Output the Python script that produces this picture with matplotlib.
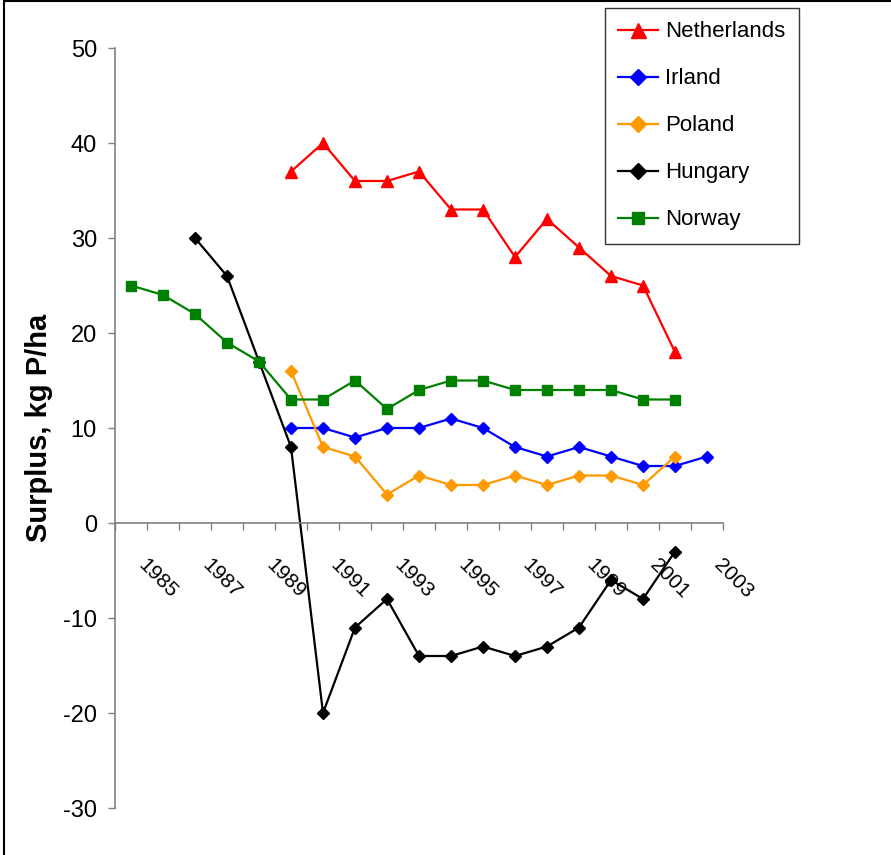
import numpy as np
import matplotlib
matplotlib.use("Agg")
import matplotlib.pyplot as plt
import matplotlib.transforms as mtransforms
from matplotlib.patches import Rectangle

plt.rcParams["font.family"] = ["Liberation Sans", "DejaVu Sans"]
plt.rcParams["axes.unicode_minus"] = False

# --- phosphorus surplus per year (kg P/ha), NaN where no value ---
years = list(range(1985, 2004))
nan = np.nan
netherlands = [nan, nan, nan, nan, nan, 37, 40, 36, 36, 37, 33, 33, 28, 32, 29, 26, 25, 18, nan]
irland = [nan, nan, nan, nan, nan, 10, 10, 9, 10, 10, 11, 10, 8, 7, 8, 7, 6, 6, 7]
poland = [nan, nan, nan, nan, nan, 16, 8, 7, 3, 5, 4, 4, 5, 4, 5, 5, 4, 7, nan]
hungary = [nan, nan, 30, 26, 17, 8, -20, -11, -8, -14, -14, -13, -14, -13, -11, -6, -8, -3, nan]
norway = [25, 24, 22, 19, 17, 13, 13, 15, 12, 14, 15, 15, 14, 14, 14, 14, 13, 13, nan]

series = [
    ("Netherlands", netherlands, "#FF0000", "^", 9),
    ("Irland", irland, "#0000FF", "D", 6.5),
    ("Poland", poland, "#FF9900", "D", 6.5),
    ("Hungary", hungary, "#000000", "D", 6.5),
    ("Norway", norway, "#008000", "s", 7.5),
]

fig = plt.figure(figsize=(8.91, 8.55), dpi=100)
ax = fig.add_axes([115 / 891, 1 - 808 / 855, 608 / 891, 760 / 855])

x = np.arange(len(years))
for name, vals, col, mk, ms in series:
    ax.plot(x, vals, color=col, lw=1.6, marker=mk, ms=ms, mfc=col, mec=col,
            mew=1, label=name, clip_on=False)

# axes: category axis crossing at zero
ax.set_xlim(-0.5, len(years) - 0.5)
ax.set_ylim(-30, 50)
ax.spines["top"].set_visible(False)
ax.spines["right"].set_visible(False)
ax.spines["bottom"].set_position(("data", 0))
for sp in ("left", "bottom"):
    ax.spines[sp].set_color("#808080")
    ax.spines[sp].set_linewidth(1.2)

ax.set_yticks(np.arange(-30, 51, 10))
ax.tick_params(axis="y", direction="out", length=5, width=1, color="#808080",
               labelsize=17, pad=8)

ax.set_xticks(x[::2])
ax.set_xticklabels([str(y) for y in years[::2]])
ax.set_xticks(np.arange(-0.5, len(years), 1), minor=True)
ax.tick_params(axis="x", which="major", length=0, labelsize=15, pad=23,
               labelrotation=-45)
ax.tick_params(axis="x", which="minor", direction="out", length=5, width=1,
               color="#808080")
shift = mtransforms.ScaledTranslation(17 / 100, 0, fig.dpi_scale_trans)
for lab in ax.get_xticklabels():
    lab.set_ha("left")
    lab.set_va("top")
    lab.set_rotation_mode("anchor")
    lab.set_transform(lab.get_transform() + shift)

ax.set_ylabel("Surplus, kg P/ha", fontsize=21, fontweight="bold")
ax.yaxis.set_label_coords(-0.102, 0.5)

leg = ax.legend(loc="upper left", bbox_to_anchor=(605 / 891, 1 - 8 / 855),
                bbox_transform=fig.transFigure, borderaxespad=0, fontsize=16,
                frameon=True, fancybox=False, edgecolor="black",
                labelspacing=1.17, borderpad=0.6, handlelength=1.8,
                handletextpad=0.3, markerscale=1.2)
leg.get_frame().set_linewidth(1.0)

# outer frame of the figure (left and top edges)
fig.patches.append(Rectangle((4 / 891, -0.1), 1.2, 1.1 - 1.5 / 855,
                             transform=fig.transFigure, fill=False,
                             edgecolor="black", lw=1.5))

fig.savefig("out.png", dpi=100)
